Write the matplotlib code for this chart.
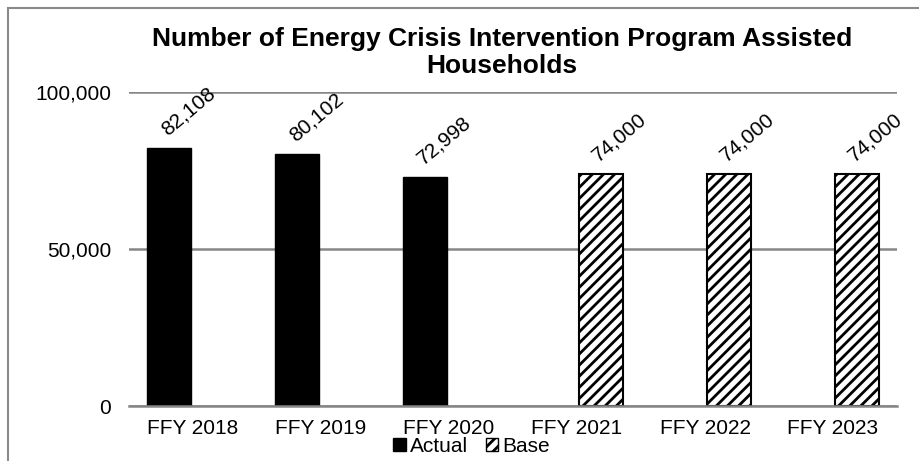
import matplotlib
matplotlib.use("Agg")
import matplotlib.pyplot as plt
from matplotlib.patches import Rectangle, Patch

plt.rcParams['font.family'] = ['Liberation Sans', 'DejaVu Sans']
plt.rcParams['hatch.linewidth'] = 2.0

categories = ["FFY 2018", "FFY 2019", "FFY 2020", "FFY 2021", "FFY 2022", "FFY 2023"]
actual = [82108, 80102, 72998, None, None, None]
base = [None, None, None, 74000, 74000, 74000]
yticks = [0, 50000, 100000]

FS = 15
fig = plt.figure(figsize=(9.19, 4.61), dpi=100)
ax = fig.add_axes([0.1404, 0.1193, 0.8357, 0.6811])

x = list(range(len(categories)))
w = 0.345
off = 0.185


def label(xc, v):
    ax.annotate(f"{v:,}", xy=(xc, v), xytext=(13.5, 26.5), textcoords='offset points',
                rotation=40, ha='center', va='center', fontsize=FS)


for i, v in enumerate(actual):
    if v is not None:
        ax.bar(i - off, v, width=w, color='black', edgecolor='black', zorder=3)
        label(i - off, v)
for i, v in enumerate(base):
    if v is not None:
        ax.bar(i + off, v, width=w, color='white', edgecolor='black', hatch='///',
               linewidth=1.5, zorder=3)
        label(i + off, v)

ax.set_xlim(-0.5, len(categories) - 0.5)
ax.set_ylim(0, 100000)
ax.set_yticks(yticks)
ax.set_yticklabels([f"{t:,}" for t in yticks], fontsize=FS)
ax.set_xticks(x)
ax.set_xticklabels(categories, fontsize=FS)
ax.tick_params(axis='y', length=0, pad=13)
ax.tick_params(axis='x', length=0, pad=9)
ax.yaxis.grid(True, color='#868686', linewidth=1.8, zorder=0)
for s in ['left', 'right', 'top']:
    ax.spines[s].set_visible(False)
ax.spines['bottom'].set_color('#868686')
ax.spines['bottom'].set_linewidth(1.8)
ax.spines['bottom'].set_zorder(4)

fig.text(0.546, 0.942, "Number of Energy Crisis Intervention Program Assisted\nHouseholds",
         ha='center', va='top', fontsize=19, fontweight='bold', linespacing=1.17)

handles = [Patch(facecolor='black', edgecolor='black', label='Actual'),
           Patch(facecolor='white', edgecolor='black', hatch='///', label='Base')]
fig.legend(handles=handles, loc='center', bbox_to_anchor=(0.513, 0.031), ncol=2,
           frameon=False, fontsize=FS, handlelength=0.6, handleheight=0.6,
           handletextpad=0.2, columnspacing=0.85, borderpad=0)

fig.patches.append(Rectangle((8 / 919, -0.1), 2.0, 1.1 - 8 / 461, transform=fig.transFigure,
                             fill=False, edgecolor='#8a8a8a', linewidth=1.5))

fig.savefig("out.png", dpi=100)
